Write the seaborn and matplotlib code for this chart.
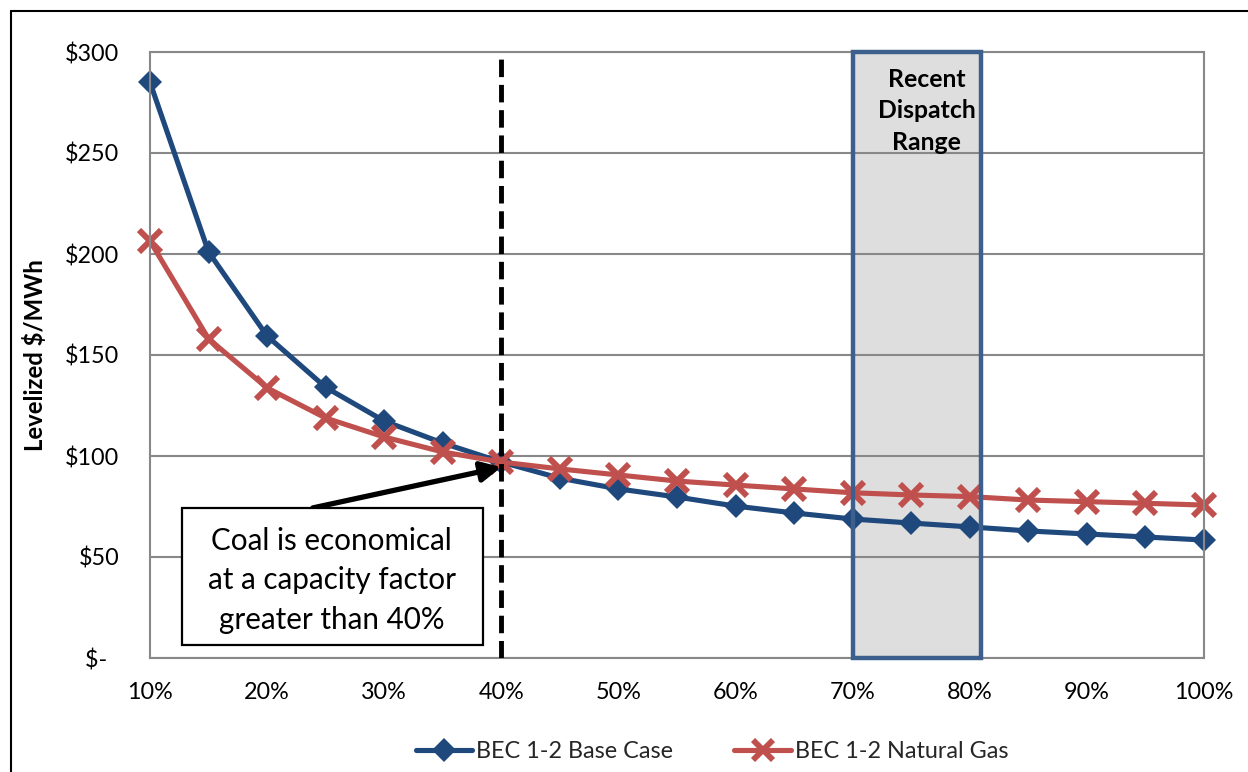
import matplotlib
matplotlib.use("Agg")
import matplotlib.pyplot as plt
import seaborn as sns
import pandas as pd
from matplotlib.patches import Rectangle
from matplotlib.lines import Line2D

capacity = [10, 15, 20, 25, 30, 35, 40, 45, 50, 55, 60, 65, 70, 75, 80, 85, 90, 95, 100]
base_case = [285, 201, 159.4, 134, 117.3, 106.4, 97, 89, 83.7, 79.7, 75.2, 71.8, 68.8, 66.8,
             64.9, 62.9, 61.4, 59.9, 58.4]
natural_gas = [206.4, 158, 133.7, 118.8, 109.4, 102, 97, 93.6, 90.6, 87.6, 85.6, 83.7, 81.8,
               80.7, 79.9, 78.2, 77.4, 76.6, 75.7]
series_names = ["BEC 1-2 Base Case", "BEC 1-2 Natural Gas"]
y_ticks = [0, 50, 100, 150, 200, 250, 300]
y_labels = ["$-  ", "$50", "$100", "$150", "$200", "$250", "$300"]
x_label_ticks = [10, 20, 30, 40, 50, 60, 70, 80, 90, 100]

sns.set_theme(style="white")
plt.rcParams["font.family"] = ["Lato", "DejaVu Sans"]

df = pd.DataFrame({
    "cf": capacity * 2,
    "cost": base_case + natural_gas,
    "series": [series_names[0]] * len(capacity) + [series_names[1]] * len(capacity),
})

BLUE = "#1F497D"
RED = "#C0504D"
GRID = "#888888"

fig = plt.figure(figsize=(12.48, 7.72), dpi=100)
ax = fig.add_axes([150 / 1248, 1 - 658 / 772, 1054 / 1248, 606 / 772])

# Recent dispatch range box (fill below, edge on top)
ax.add_patch(Rectangle((70, 0), 11, 300, facecolor="#DEDEDE", edgecolor="none", zorder=0.3))
ax.add_patch(Rectangle((70, 0), 11, 300, facecolor="none", edgecolor="#3C5F8D", lw=3.2,
                       zorder=3, clip_on=False))

sns.lineplot(data=df[df.series == series_names[0]], x="cf", y="cost", ax=ax, color=BLUE,
             lw=3.7, marker="D", markersize=12.5, markeredgewidth=0, zorder=2.2, legend=False,
             clip_on=False)
sns.lineplot(data=df[df.series == series_names[1]], x="cf", y="cost", ax=ax, color=RED,
             lw=3.7, marker="x", markersize=16.5, markeredgewidth=4.3, markeredgecolor=RED,
             zorder=2.3, legend=False, clip_on=False)

ax.set_xlim(10, 100)
ax.set_ylim(0, 300)
ax.set_axisbelow(True)
ax.yaxis.grid(True, color=GRID, lw=1.5, zorder=0.5)
ax.xaxis.grid(False)
for s in ax.spines.values():
    s.set_color(GRID)
    s.set_linewidth(1.5)

ax.set_xticks(capacity)
ax.set_xticklabels([f"{c}%" if c in x_label_ticks else "" for c in capacity])
ax.set_yticks(y_ticks)
ax.set_yticklabels(y_labels)
ax.tick_params(axis="both", direction="out", length=8, width=1.5, color=GRID,
               labelsize=16.8, labelcolor="black")
ax.tick_params(axis="y", pad=14)
ax.tick_params(axis="x", pad=9)
ax.set_xlabel("")
ax.set_ylabel("Levelized $/MWh", fontsize=17.2, fontweight="bold", color="black")
ax.yaxis.set_label_coords(-0.0977, 0.5)

# Vertical dashed line at 40%
ax.axvline(40, ymin=0, ymax=1, color="black", lw=3.5, ls=(0, (3.6, 1.6)), zorder=4)

# Annotation box and arrow
ax.add_patch(Rectangle((12.7, 6.4), 25.7, 67.9, facecolor="white", edgecolor="black",
                       lw=1.6, zorder=5))
ax.text(25.5, 38.6, "Coal is economical\nat a capacity factor\ngreater than 40%",
        ha="center", va="center", fontsize=21.3, linespacing=1.5, color="black", zorder=6)
ax.annotate("", xy=(40, 94.5), xytext=(23.9, 74.3),
            arrowprops=dict(arrowstyle="-|>", color="black", lw=3.8, mutation_scale=30,
                            shrinkA=0, shrinkB=0), zorder=3.5)

ax.text(76.3, 270.8, "Recent\nDispatch\nRange", ha="center", va="center", fontsize=17.8,
        fontweight="bold", linespacing=1.46, color="black", zorder=6)

handles = [
    Line2D([], [], color=BLUE, lw=3.7, marker="D", markersize=12, markeredgewidth=0),
    Line2D([], [], color=RED, lw=3.7, marker="x", markersize=14, markeredgewidth=4.2,
           markeredgecolor=RED),
]
fig.legend(handles, series_names, loc="center", bbox_to_anchor=(0.5705, 1 - 752 / 772),
           ncol=2, frameon=False, fontsize=16.8, handlelength=2.44, handletextpad=0.17,
           columnspacing=2.6)

# outer border (top and left visible)
fig.add_artist(Line2D([11 / 1248, 1], [1 - 11 / 772, 1 - 11 / 772], color="black", lw=1.5,
                      transform=fig.transFigure))
fig.add_artist(Line2D([11 / 1248, 11 / 1248], [0, 1 - 11 / 772], color="black", lw=1.5,
                      transform=fig.transFigure))

fig.savefig("out.png", dpi=100)
